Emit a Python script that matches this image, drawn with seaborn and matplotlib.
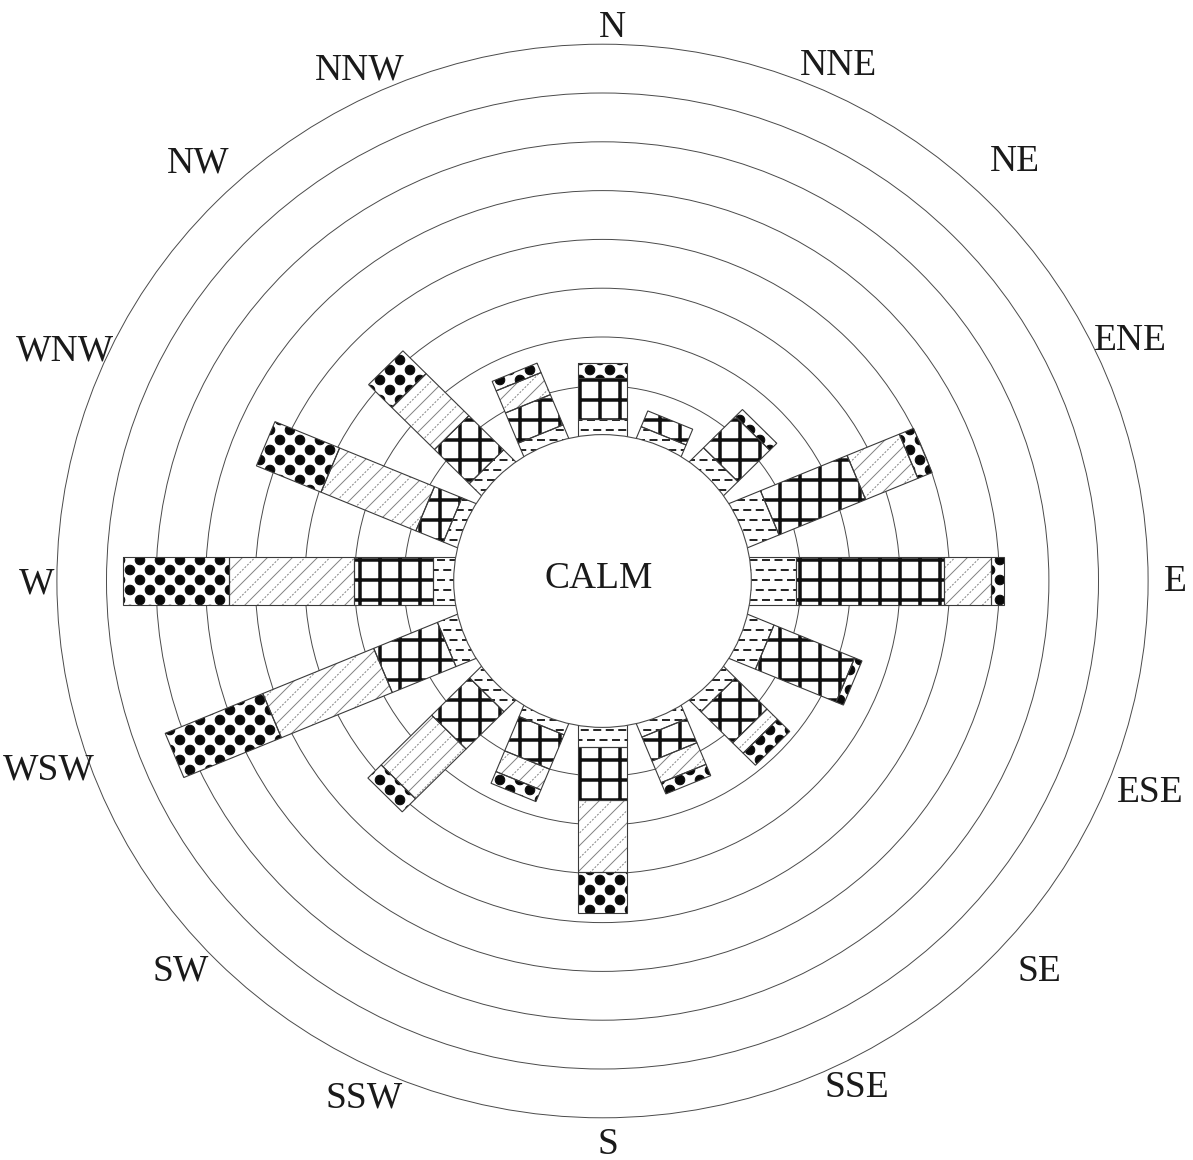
import warnings

import numpy as np
import matplotlib
matplotlib.use("Agg")
import matplotlib.pyplot as plt
import seaborn as sns
from matplotlib import hatch as mhatch
from matplotlib.path import Path
from matplotlib.patches import Circle
from matplotlib.transforms import Affine2D

warnings.filterwarnings("ignore", message=".*hatch must consist.*")

# ---------------------------------------------------------------- data
directions = ["N", "NNE", "NE", "ENE", "E", "ESE", "SE", "SSE",
              "S", "SSW", "SW", "WSW", "W", "WNW", "NW", "NNW"]
bearings = np.arange(16) * 22.5

# frequency of each wind-speed band per direction (one ring = one unit)
band_1 = [0.32, 0.22, 0.37, 0.65, 0.91, 0.54, 0.30, 0.26,
          0.40, 0.21, 0.30, 0.40, 0.41, 0.27, 0.31, 0.26]
band_2 = [0.83, 0.35, 0.91, 1.89, 2.98, 1.76, 0.90, 0.53,
          1.09, 0.76, 1.08, 1.39, 1.60, 0.60, 0.99, 0.67]
band_3 = [0.00, 0.00, 0.00, 1.14, 0.94, 0.00, 0.30, 0.48,
          1.48, 0.46, 1.44, 2.42, 2.52, 2.07, 1.22, 0.49]
band_4 = [0.31, 0.00, 0.20, 0.31, 0.26, 0.16, 0.35, 0.25,
          0.84, 0.26, 0.38, 2.13, 2.13, 1.41, 0.66, 0.21]

calm_radius = 3.0
ring_radii = [4, 5, 6, 7, 8, 9, 10, 11]
calm_label = "CALM"

# where each compass label sits: (bearing in degrees, distance in ring units)
label_anchor = [(1.0, 11.41), (24.1, 11.65), (43.8, 12.0), (64.9, 11.74),
                (89.7, 11.54), (111.2, 11.84), (132.0, 11.86), (153.6, 11.53),
                (179.5, 11.48), (204.5, 11.57), (227.0, 11.64), (251.2, 11.80),
                (270.0, 11.40), (293.8, 11.84), (316.6, 11.87), (335.1, 11.61)]


# ------------------------------------------------------- hatch patterns
def _rect(x0, y0, x1, y1):
    verts = [(x0, y0), (x1, y0), (x1, y1), (x0, y1), (x0, y0)]
    codes = [Path.MOVETO, Path.LINETO, Path.LINETO, Path.LINETO, Path.CLOSEPOLY]
    return verts, codes


class _CustomHatch(mhatch.HatchPatternBase):
    key = ""

    def __init__(self, hatch, density):
        if self.key and hatch and self.key in hatch:
            verts, codes = self.build()
        else:
            verts, codes = [], []
        self._verts = np.asarray(verts, dtype=float).reshape(-1, 2)
        self._codes = np.asarray(codes, dtype=Path.code_type)
        self.num_vertices = len(self._verts)

    def build(self):
        return [], []

    def set_vertices_and_codes(self, vertices, codes):
        vertices[:] = self._verts
        codes[:] = self._codes


class DashHatch(_CustomHatch):
    """Staggered rows of short horizontal dashes."""
    key = "d"

    def build(self):
        verts, codes = [], []
        rows, per_row, length, half_t = 10, 8, 0.07, 0.005
        for i in range(rows + 1):
            y = i / rows
            shift = 0.5 / per_row if i % 2 else 0.0
            for j in range(-1, per_row + 1):
                x = j / per_row + shift
                v, c = _rect(x, y - half_t, x + length, y + half_t)
                verts += v
                codes += c
        return verts, codes


class GridHatch(_CustomHatch):
    """Square grid of heavy lines."""
    key = "g"

    def build(self):
        verts, codes = [], []
        n, t = 5, 0.012
        for k in range(n + 1):
            p = k / n
            for v, c in (_rect(-0.02, p - t, 1.02, p + t),
                         _rect(p - t, -0.02, p + t, 1.02)):
                verts += v
                codes += c
        return verts, codes


class DiagHatch(_CustomHatch):
    """Fine diagonal lines alternating solid and dotted."""
    key = "h"

    def build(self):
        verts, codes = [], []
        n = 4
        for k in range(-n, n + 1):
            c = k / n
            verts += [(-0.1, -0.1 + c), (1.1, 1.1 + c)]
            codes += [Path.MOVETO, Path.LINETO]
            c2 = c + 0.5 / n
            for t in np.arange(-4, 44) * 0.025:
                verts += [(t, t + c2), (t + 0.007, t + 0.007 + c2)]
                codes += [Path.MOVETO, Path.LINETO]
        return verts, codes


class DotHatch(_CustomHatch):
    """Large filled dots on a staggered lattice."""
    key = "p"

    def build(self):
        verts, codes = [], []
        circle = Path.unit_circle()
        r = 0.048
        for i in range(11):
            y = i / 10
            xs = np.arange(0, 6) * 0.2 if i % 2 == 0 else np.arange(0, 5) * 0.2 + 0.1
            for x in xs:
                verts += list(circle.vertices * r + (x, y))
                codes += list(circle.codes)
        return verts, codes


mhatch._hatch_types.extend([DashHatch, GridHatch, DiagHatch, DotHatch])

# ---------------------------------------------------------------- style
sns.set_theme(style="white")
plt.rcParams["font.family"] = ["Liberation Serif", "DejaVu Serif"]
plt.rcParams["hatch.linewidth"] = 0.7

bands = [band_1, band_2, band_3, band_4]
band_hatches = ["d", "g", "h", "p"]
hatch_colors = ["#262626", "#101010", "#808080", "#0a0a0a"]
outline_color = "#3a3a3a"
ring_color = "#4a4a4a"
bar_width = 0.98

# ---------------------------------------------------------------- figure
fig = plt.figure(figsize=(11.93, 11.60), dpi=100)
ax = fig.add_axes([0, 0, 1, 1])
sx, sy = 49.6, 48.8          # pixels per ring unit
cx, cy = 602.5, 581.0        # centre in pixels from the top-left corner
xlim = (-cx / sx, (1193 - cx) / sx)
ylim = (-(1160 - cy) / sy, cy / sy)
ax.set_aspect("auto")
ax.axis("off")

# concentric rings
for r in ring_radii:
    ax.add_patch(Circle((0, 0), r, fill=False, edgecolor=ring_color,
                        linewidth=0.7, zorder=1))

# stacked bars, one rotated bar per direction
inner_start = np.sqrt(calm_radius ** 2 - (bar_width / 2) ** 2) - 0.02
for i, bearing in enumerate(bearings):
    rot = Affine2D().rotate_deg(90 - bearing) + ax.transData
    lengths = np.array([b[i] for b in bands], dtype=float)
    lefts = calm_radius + np.concatenate([[0.0], np.cumsum(lengths)[:-1]])
    lengths[0] += lefts[0] - inner_start
    lefts[0] = inner_start
    keep = np.array([b[i] for b in bands]) > 0
    hatches = [h for h, k in zip(band_hatches, keep) if k]
    hcolors = [c for c, k in zip(hatch_colors, keep) if k]

    filled = ax.barh(np.zeros(keep.sum()), lengths[keep], left=lefts[keep],
                     height=bar_width, transform=rot, color="white",
                     linewidth=0, zorder=2)
    for patch, h, hc in zip(filled.patches, hatches, hcolors):
        patch.set_edgecolor(hc)
        patch.set_hatch(h)
    ax.barh(np.zeros(keep.sum()), lengths[keep], left=lefts[keep],
            height=bar_width, transform=rot, fill=False,
            edgecolor=outline_color, linewidth=0.8, zorder=3)

# calm disc
ax.add_patch(Circle((0, 0), calm_radius, facecolor="white",
                    edgecolor=ring_color, linewidth=0.8, zorder=4))
ax.text(-0.07, -0.143, calm_label, ha="center", va="baseline",
        fontsize=27, color="#1a1a1a", zorder=5)

# compass labels
cap_half = 12.5 / sy
for name, (bearing, r) in zip(directions, label_anchor):
    a = np.radians(bearing)
    ax.text(r * np.sin(a), r * np.cos(a) - cap_half, name,
            ha="center", va="baseline", fontsize=27, color="#1a1a1a",
            zorder=5)

ax.set_xlim(*xlim)
ax.set_ylim(*ylim)
fig.savefig("out.png", dpi=100, facecolor="white")
